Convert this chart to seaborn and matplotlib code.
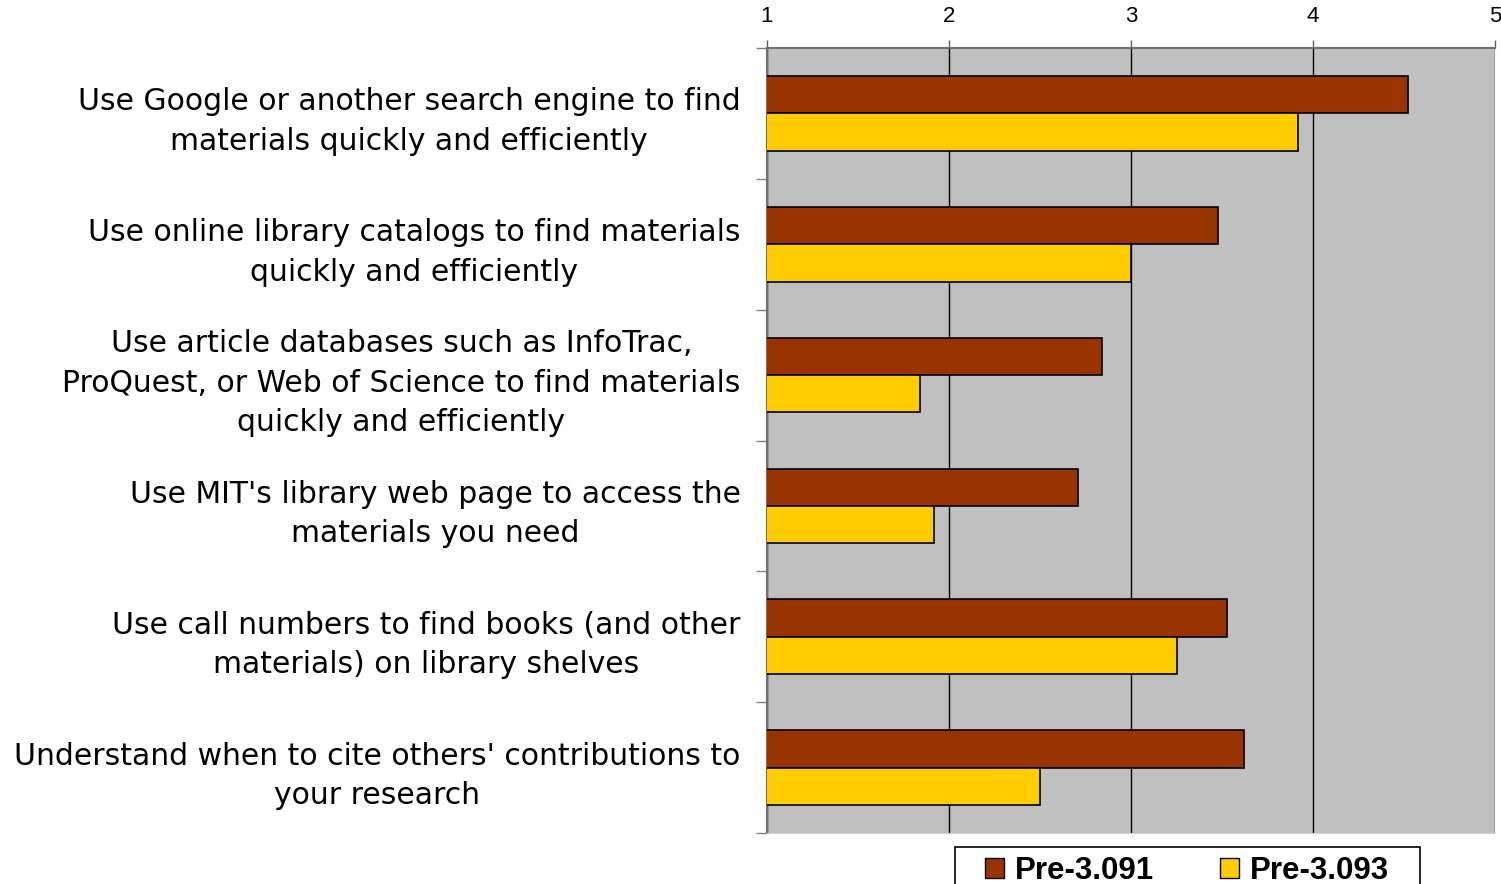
import pandas as pd
import matplotlib
matplotlib.use("Agg")
import matplotlib.pyplot as plt
import seaborn as sns
from matplotlib.patches import Patch, Rectangle

# Survey items (labels wrapped as in the original chart)
items = [
    "Use Google or another search engine to find\nmaterials quickly and efficiently",
    "Use online library catalogs to find materials\nquickly and efficiently",
    "Use article databases such as InfoTrac,\nProQuest, or Web of Science to find materials\nquickly and efficiently",
    "Use MIT's library web page to access the\nmaterials you need",
    "Use call numbers to find books (and other\nmaterials) on library shelves",
    "Understand when to cite others' contributions to\nyour research",
]
pre_3091 = [4.52, 3.48, 2.84, 2.71, 3.53, 3.62]
pre_3093 = [3.92, 3.00, 1.84, 1.92, 3.25, 2.50]
groups = ["Pre-3.091", "Pre-3.093"]
colors = ["#993300", "#FFCC00"]
x_ticks = [1, 2, 3, 4, 5]

rows = []
for item, a, b in zip(items, pre_3091, pre_3093):
    rows.append({"Item": item, "Group": groups[0], "Score": a})
    rows.append({"Item": item, "Group": groups[1], "Score": b})
df = pd.DataFrame(rows)

sns.set_style("white")
plt.rcParams["font.family"] = ["Liberation Sans", "DejaVu Sans"]
plt.rcParams["text.color"] = "black"

fig = plt.figure(figsize=(15.01, 8.84), dpi=100)
ax = fig.add_axes([767 / 1501, 1 - 833 / 884, (1495 - 767) / 1501, (833 - 48) / 884])

sns.barplot(data=df, y="Item", x="Score", hue="Group", orient="h",
            palette=colors, saturation=1, edgecolor="black", linewidth=1.2,
            width=0.57, gap=0, legend=False, ax=ax, zorder=3)

ax.set_facecolor("#C0C0C0")
ax.set_xlim(1, 5)
ax.set_ylim(len(items) - 0.5, -0.5)
ax.set_xticks(x_ticks)
ax.xaxis.tick_top()
ax.tick_params(axis="x", direction="out", length=6, width=1, color="#606060",
               labelsize=16, labelcolor="black", pad=9)
ax.grid(axis="x", color="black", linewidth=1, zorder=1)
ax.set_axisbelow(True)

# category labels, centred lines, right-aligned block
ax.tick_params(axis="y", which="major", length=0, pad=19, labelcolor="black")
for lab in ax.get_yticklabels():
    lab.set_multialignment("center")
    lab.set_fontfamily("DejaVu Sans")
    lab.set_fontsize(21.5)
    lab.set_linespacing(1.45)
ax.set_yticks([i - 0.5 for i in range(len(items) + 1)], minor=True)
ax.tick_params(axis="y", which="minor", direction="out", length=8, width=1,
               color="#808080", left=True)

ax.set_xlabel("")
ax.set_ylabel("")
for side in ["top", "left"]:
    ax.spines[side].set_color("#707070")
    ax.spines[side].set_linewidth(1.5)
ax.spines["bottom"].set_color("#D0D0D0")
ax.spines["right"].set_visible(False)

# legend box (clipped by the bottom edge, as in the original)
fig.patches.append(Rectangle((955 / 1501, -0.05), (1420 - 955) / 1501, 1 - 847 / 884 + 0.05,
                             transform=fig.transFigure, facecolor="white",
                             edgecolor="black", linewidth=1.2))
handles = [Patch(facecolor=c, edgecolor="black", label=g) for c, g in zip(colors, groups)]
leg = fig.legend(handles=handles, loc="upper center", ncol=2,
                 bbox_to_anchor=(1187 / 1501, 1 - 856 / 884),
                 prop={"weight": "bold", "size": 22.5}, frameon=False,
                 handlelength=0.6, handleheight=0.6, handletextpad=0.35,
                 columnspacing=2.1, borderpad=0.0, borderaxespad=0)

fig.savefig("out.png", dpi=100)
